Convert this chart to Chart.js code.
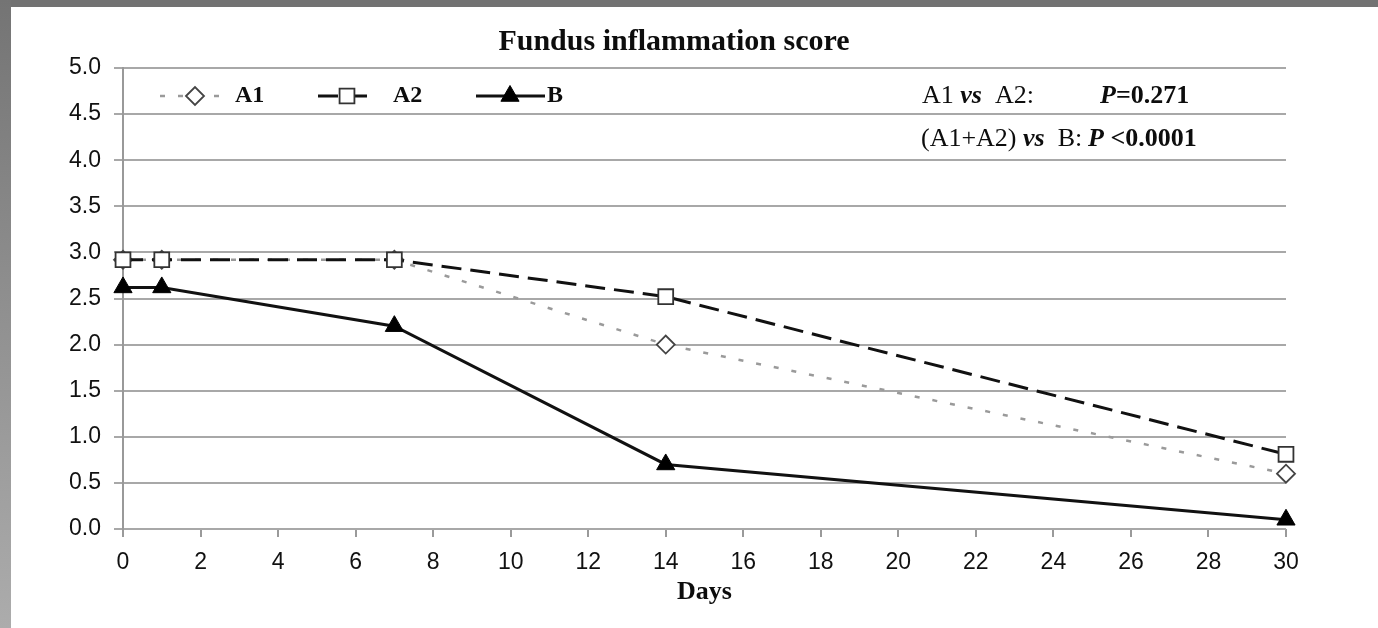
<!DOCTYPE html>
<html>
<head>
<meta charset="utf-8">
<script src="https://cdn.jsdelivr.net/npm/chart.js@4.4.1/dist/chart.umd.min.js"></script>
<style>
  html, body { margin: 0; padding: 0; }
  body { width: 1378px; height: 628px; background: #fff; position: relative; overflow: hidden; }
  .top-band { position: absolute; left: 0; top: 0; width: 1378px; height: 7px; background: #727272; }
  .left-band { position: absolute; left: 0; top: 0; width: 11px; height: 628px; background: linear-gradient(#747474, #acacac); }
  .chart-box { position: absolute; left: 11px; top: 7px; width: 1367px; height: 621px; }
</style>
</head>
<body>
<div class="top-band"></div>
<div class="left-band"></div>
<div class="chart-box"><canvas id="fundusChart"></canvas></div>
<script>
// data
const days = [0, 1, 7, 14, 30];
const scoreA1 = [2.92, 2.92, 2.92, 2.0, 0.6];
const scoreA2 = [2.92, 2.92, 2.92, 2.52, 0.81];
const scoreB = [2.62, 2.62, 2.2, 0.7, 0.1];
const seriesNames = ['A1', 'A2', 'B'];
const chartTitle = 'Fundus inflammation score';
const xTitle = 'Days';
const pValues = ['0.271', '<0.0001'];

const serif = '"Liberation Serif", "Times New Roman", serif';
const sans = '"Liberation Sans", Arial, sans-serif';

function toPoints(vals) {
    return days.map((d, i) => ({ x: d, y: vals[i] }));
}

// draws a row of text pieces with different fonts
function drawRuns(ctx, x, y, runs) {
    runs.forEach(([txt, font]) => {
        ctx.font = font;
        ctx.fillText(txt, x, y);
        x += ctx.measureText(txt).width;
    });
}

const paperText = {
    id: 'paperText',
    afterDraw(chart) {
        const ctx = chart.ctx;
        ctx.save();
        ctx.fillStyle = '#0d0d0d';
        ctx.textBaseline = 'middle';

        ctx.textAlign = 'center';
        ctx.font = 'bold 30px ' + serif;
        ctx.fillText(chartTitle, 663, 35);

        // legend inside the plot
        ctx.textAlign = 'left';
        const legendY = 89;
        const items = [
            { ds: 0, x1: 149, x2: 211, mx: 184, tx: 224 },
            { ds: 1, x1: 307, x2: 364, mx: 336, tx: 382 },
            { ds: 2, x1: 465, x2: 534, mx: 499, tx: 536 }
        ];
        items.forEach(it => {
            const ds = chart.data.datasets[it.ds];
            ctx.save();
            ctx.strokeStyle = ds.borderColor;
            ctx.lineWidth = ds.borderWidth;
            ctx.setLineDash(ds.borderDash || []);
            ctx.beginPath();
            ctx.moveTo(it.x1, legendY);
            ctx.lineTo(it.x2, legendY);
            ctx.stroke();
            ctx.setLineDash([]);
            ctx.fillStyle = ds.pointBackgroundColor;
            ctx.strokeStyle = ds.pointBorderColor;
            ctx.lineWidth = ds.pointBorderWidth;
            Chart.helpers.drawPoint(ctx, {
                pointStyle: ds.pointStyle,
                radius: ds.pointRadius,
                rotation: 0,
                borderWidth: ds.pointBorderWidth
            }, it.mx, legendY);
            ctx.restore();
            ctx.font = 'bold 24px ' + serif;
            ctx.fillText(seriesNames[it.ds], it.tx, legendY);
        });

        // p-value notes
        const reg = '26px ' + serif;
        const bold = 'bold 26px ' + serif;
        const bi = 'italic bold 26px ' + serif;
        drawRuns(ctx, 911, 89, [['A1 ', reg], ['vs', bi], ['  A2:', reg]]);
        drawRuns(ctx, 1089, 89, [['P', bi], ['=' + pValues[0], bold]]);
        drawRuns(ctx, 910, 132, [['(A1+A2) ', reg], ['vs', bi], ['  B:', reg]]);
        drawRuns(ctx, 1077, 132, [['P', bi], [' ' + pValues[1], bold]]);
        ctx.restore();
    }
};

const ctx = document.getElementById('fundusChart').getContext('2d');

const chart = new Chart(ctx, {
    type: 'line',
    data: {
        datasets: [
            {
                label: seriesNames[0],
                data: toPoints(scoreA1),
                borderColor: '#9a9a9a',
                borderWidth: 2.5,
                borderDash: [5, 13],
                pointStyle: 'rectRot',
                pointRadius: 9,
                pointBorderWidth: 1.8,
                pointBorderColor: '#444',
                pointBackgroundColor: '#fff',
                order: 3,
                clip: false
            },
            {
                label: seriesNames[1],
                data: toPoints(scoreA2),
                borderColor: '#111',
                borderWidth: 3,
                borderDash: [20, 9],
                pointStyle: 'rect',
                pointRadius: 10.5,
                pointBorderWidth: 1.8,
                pointBorderColor: '#333',
                pointBackgroundColor: '#fff',
                order: 2,
                clip: false
            },
            {
                label: seriesNames[2],
                data: toPoints(scoreB),
                borderColor: '#111',
                borderWidth: 3,
                pointStyle: 'triangle',
                pointRadius: 10.5,
                pointBorderWidth: 1,
                pointBorderColor: '#000',
                pointBackgroundColor: '#000',
                order: 1,
                clip: false
            }
        ]
    },
    options: {
        responsive: true,
        maintainAspectRatio: false,
        animation: false,
        layout: {
            padding: { left: 0, right: 92, top: 61, bottom: 0 }
        },
        plugins: {
            legend: { display: false },
            tooltip: { enabled: false }
        },
        scales: {
            x: {
                type: 'linear',
                min: 0,
                max: 30,
                afterFit: s => { s.height = 99; },
                ticks: {
                    stepSize: 2,
                    color: '#111',
                    padding: 12,
                    font: { family: sans, size: 23 }
                },
                grid: {
                    drawOnChartArea: false,
                    color: '#9a9a9a',
                    lineWidth: 2,
                    tickLength: 8
                },
                border: { display: false },
                title: {
                    display: true,
                    text: xTitle,
                    color: '#0d0d0d',
                    font: { family: serif, size: 26, weight: 'bold' },
                    padding: { top: 0, bottom: 20 }
                }
            },
            y: {
                min: 0,
                max: 5,
                afterFit: s => { s.width = 112; },
                ticks: {
                    stepSize: 0.5,
                    color: '#111',
                    padding: 13,
                    font: { family: sans, size: 23 },
                    callback: v => v.toFixed(1)
                },
                grid: {
                    color: '#a8a8a8',
                    lineWidth: 2,
                    tickLength: 9
                },
                border: { color: '#999', width: 2 }
            }
        }
    },
    plugins: [paperText]
});
</script>
</body>
</html>
